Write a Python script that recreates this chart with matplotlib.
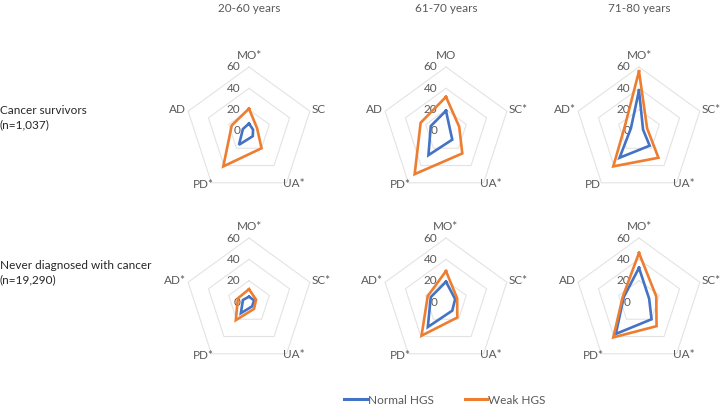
import matplotlib.pyplot as plt
import numpy as np

plt.rcParams['font.family'] = ['Lato', 'DejaVu Sans']

axes_names = ["MO", "SC", "UA", "PD", "AD"]
age_groups = ["20-60 years", "61-70 years", "71-80 years"]
row_titles = ["Cancer survivors\n(n=1,037)", "Never diagnosed with cancer\n(n=19,290)"]

# axis labels (asterisk = significant) per panel
labels_survivors = [
    ["MO*", "SC", "UA*", "PD*", "AD"],
    ["MO", "SC*", "UA*", "PD*", "AD"],
    ["MO*", "SC*", "UA*", "PD", "AD*"],
]
labels_never = [
    ["MO*", "SC*", "UA*", "PD*", "AD*"],
    ["MO*", "SC*", "UA*", "PD*", "AD*"],
    ["MO*", "SC*", "UA*", "PD*", "AD"],
]

# values in %, order MO, SC, UA, PD, AD
normal_survivors = [
    [7, 4, 6, 16, 6],
    [19, 4, 10, 28, 15],
    [38, 4, 17, 31, 8],
]
weak_survivors = [
    [21, 8, 20, 41, 17],
    [32, 13, 26, 50, 25],
    [56, 8, 31, 41, 14],
]
normal_never = [
    [5, 5, 5, 13, 6],
    [19, 9, 10, 29, 15],
    [32, 10, 20, 37, 15],
]
weak_never = [
    [12, 7, 8, 21, 11],
    [29, 11, 18, 39, 18],
    [46, 17, 28, 41, 16],
]

rings = [20, 40, 60]
BLUE = '#4472C4'
ORANGE = '#ED7D31'
GRID = '#E3E3E3'
TXT = '#595959'

W, H = 721, 412
fig = plt.figure(figsize=(W / 100, H / 100), dpi=100)

theta = np.deg2rad(90 - 72 * np.arange(len(axes_names)))
scale = 64 / 60  # px per unit


def closed(vals):
    v = np.asarray(vals, dtype=float)
    x = v * np.cos(theta)
    y = v * np.sin(theta)
    return np.append(x, x[0]), np.append(y, y[0])


def radar(cx, cy, labels, normal, weak):
    aw, ah = 190, 170
    ax = fig.add_axes([(cx - aw / 2) / W, (H - cy - ah / 2) / H, aw / W, ah / H])
    ax.set_xlim(-aw / 2 / scale, aw / 2 / scale)
    ax.set_ylim(-ah / 2 / scale, ah / 2 / scale)
    ax.axis('off')
    for r in rings:
        gx, gy = closed([r] * len(axes_names))
        ax.plot(gx, gy, color=GRID, lw=0.8, zorder=1)
    for r in [0] + rings:
        ax.text(-8, r, str(r), ha='right', va='center', fontsize=8.5, color=TXT)
    nx, ny = closed(normal)
    wx, wy = closed(weak)
    ax.plot(nx, ny, color=BLUE, lw=1.9, solid_joinstyle='miter', zorder=3)
    ax.plot(wx, wy, color=ORANGE, lw=1.9, solid_joinstyle='miter', zorder=3)
    pos = [(0, 71, 'center'), (59, 20, 'left'), (42, -49, 'center'),
           (-43, -50, 'center'), (-59, 20, 'right')]
    for (x, y, ha), lab in zip(pos, labels):
        ax.text(x, y, lab, ha=ha, va='center', fontsize=8.5, color=TXT)


col_x = [249, 446, 639]
row_y = [131, 302]
for j in range(3):
    radar(col_x[j], row_y[0], labels_survivors[j], normal_survivors[j], weak_survivors[j])
    radar(col_x[j], row_y[1], labels_never[j], normal_never[j], weak_never[j])
    fig.text(col_x[j] / W, 1 - 9 / H, age_groups[j], ha='center', va='center',
             fontsize=8.5, color=TXT)

fig.text(0, 1 - 118 / H, row_titles[0], ha='left', va='center', fontsize=8.5,
         color='#262626', linespacing=1.35)
fig.text(0, 1 - 273 / H, row_titles[1], ha='left', va='center', fontsize=8.5,
         color='#262626', linespacing=1.35)

# legend
fig.legend(handles=[plt.Line2D([], [], color=BLUE, lw=2.2),
                    plt.Line2D([], [], color=ORANGE, lw=2.2)],
           labels=['Normal HGS', 'Weak HGS'], loc='center',
           bbox_to_anchor=(445 / W, 1 - 400 / H), ncol=2, frameon=False,
           fontsize=8.5, handlelength=1.9, handletextpad=0.1, columnspacing=2.6,
           labelcolor=TXT)

fig.savefig('out.png', dpi=100)
